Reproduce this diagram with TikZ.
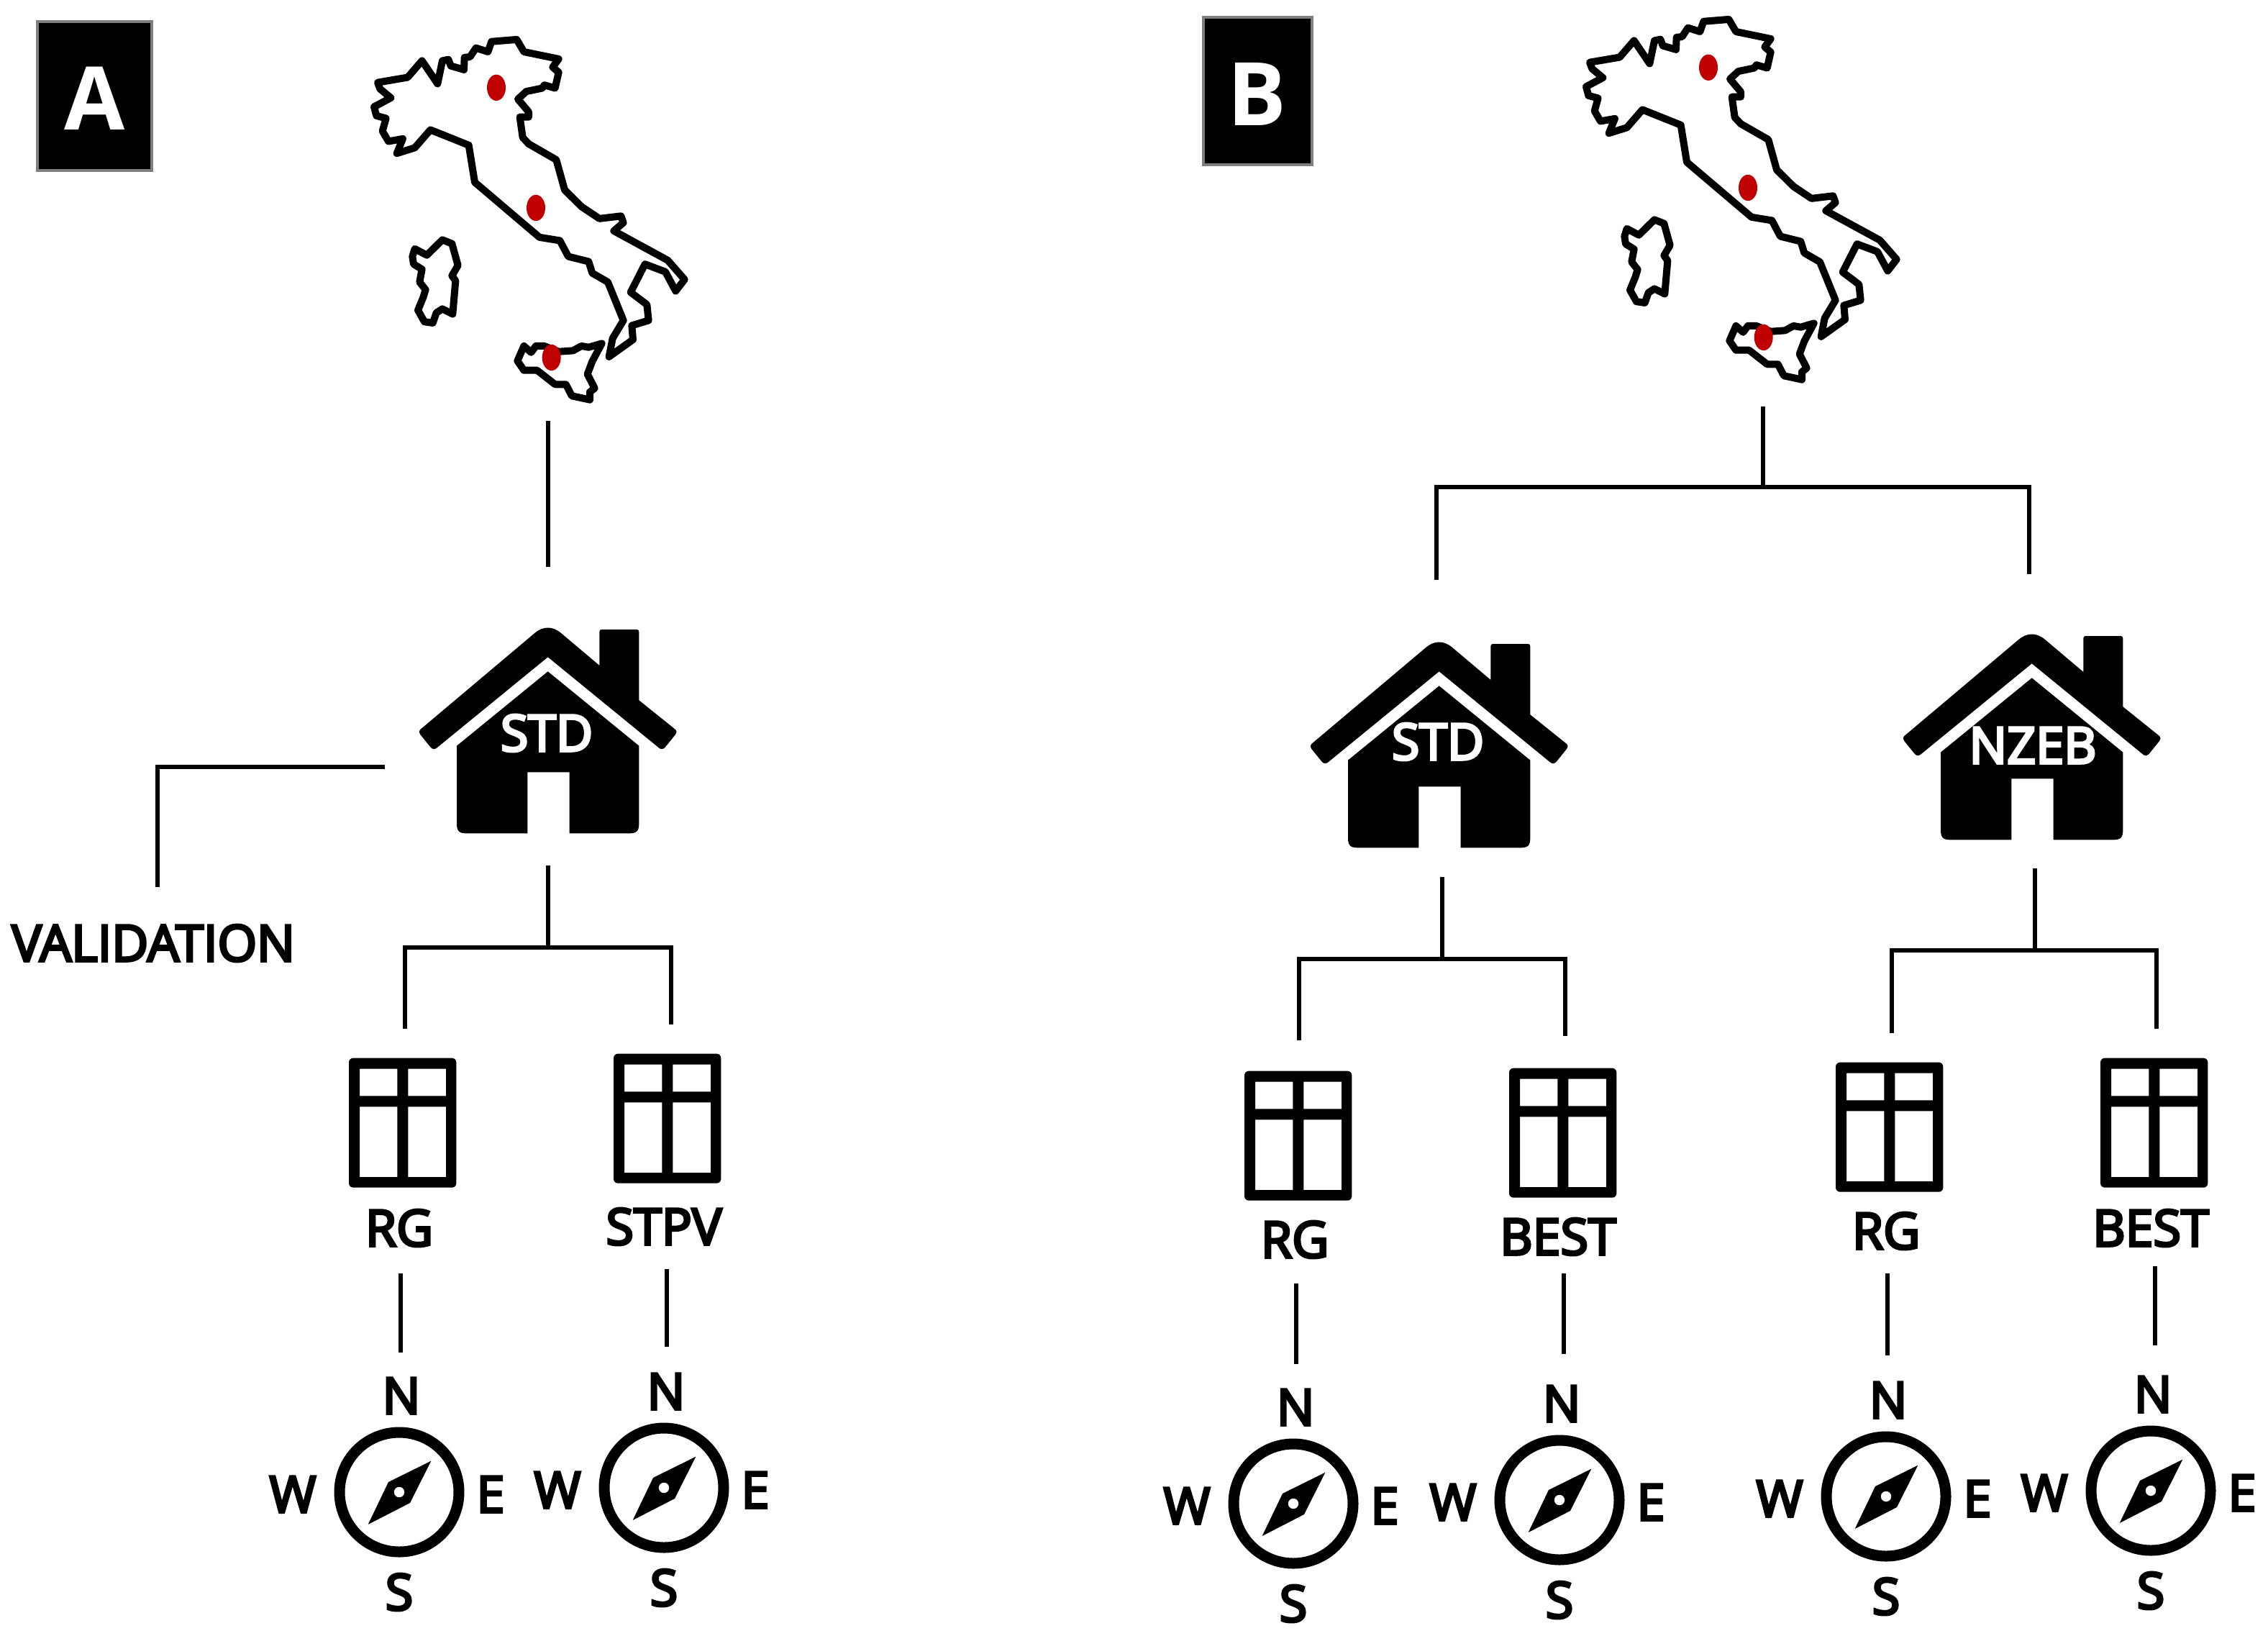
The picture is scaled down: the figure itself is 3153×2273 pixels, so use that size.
\documentclass[tikz,border=0pt]{standalone}
\usepackage{fontspec}
\setmainfont{Open Sans}
\newfontfamily\lblfont{Open Sans}[FakeBold=5]
\definecolor{dotred}{HTML}{C00000}
\definecolor{boxgray}{HTML}{7F7F7F}
\tikzset{
  x=1pt,y=-1pt,
  conn/.style={draw=black,line width=6.5pt},
  lbl/.style={inner sep=0pt,font=\fontsize{70}{82}\lblfont,text=black},
  hlbl/.style={inner sep=0pt,font=\fontsize{70}{82}\lblfont,text=white},
  tag/.style={inner sep=0pt,font=\fontsize{122}{140}\selectfont\bfseries,text=white},
  tagbox/.style={draw=boxgray,fill=black,line width=4pt},
  outline/.style={draw=black,line width=10pt,line join=round,fill=white},
  pics/italy/.style={code={
    \begin{scope}[xscale=1/3,yscale=0.3556]
    \path[outline] (135,210)--(260,190)--(320,125)--(385,215)--(405,125)--(430,120)--(440,145)--(495,160)--(497,112)--(520,110)--(545,75)--(595,90)--(610,50)--(715,42)--(745,90)--(890,118)--(865,150)--(890,170)--(875,232)--(830,220)--(822,232)--(755,245)--(720,275)--(765,325)--(765,345)--(728,345)--(740,425)--(765,450)--(880,512)--(915,630)--(985,695)--(1060,742)--(1150,732)--(1160,758)--(1120,790)--(1345,905)--(1415,980)--(1378,1025)--(1335,950)--(1250,920)--(1190,1030)--(1258,1078)--(1265,1140)--(1195,1160)--(1200,1215)--(1100,1282)--(1115,1210)--(1160,1140)--(1095,990)--(1030,955)--(1015,910)--(930,890)--(895,828)--(810,815)--(540,600)--(515,455)--(355,395)--(290,465)--(215,487)--(240,430)--(180,440)--(155,400)--(170,350)--(130,340)--(120,305)--(190,270)--(145,235)--cycle;
    \path[outline] (290,860)--(340,885)--(405,825)--(445,840)--(470,925)--(445,965)--(460,985)--(448,1115)--(405,1095)--(380,1110)--(365,1150)--(330,1145)--(303,1100)--(325,1050)--(335,1020)--(310,990)--(320,940)--(285,920)--(280,890)--cycle;
    \path[outline] (745,1240)--(775,1265)--(795,1240)--(830,1240)--(890,1262)--(950,1258)--(985,1240)--(1015,1245)--(1070,1230)--(1030,1300)--(1010,1350)--(1040,1405)--(1020,1420)--(1020,1450)--(945,1435)--(920,1390)--(875,1390)--(800,1335)--(745,1335)--(718,1298)--cycle;
    \fill[dotred] (630,230) ellipse[x radius=39,y radius=51];
    \fill[dotred] (795,700) ellipse[x radius=39,y radius=51];
    \fill[dotred] (860,1285) ellipse[x radius=39,y radius=51];
    \end{scope}
  }},
  pics/house/.style={code={
    \begin{scope}[scale=1/3]
    \fill[black] (133,582) .. controls (127,590) and (127,596) .. (133,603)--(175,655) .. controls (182,664) and (192,666) .. (200,660)--(665,280)--(1130,660) .. controls (1138,666) and (1148,664) .. (1155,655)--(1197,603) .. controls (1203,596) and (1203,590) .. (1197,582)--(1045,460)--(1045,175) .. controls (1045,168) and (1042,165) .. (1035,165)--(890,165) .. controls (883,165) and (880,168) .. (880,175)--(880,315)--(720,180) .. controls (685,150) and (645,150) .. (610,180)--cycle;
    \fill[black] (285,650)--(665,340)--(1045,650)--(1045,975) .. controls (1045,1005) and (1035,1015) .. (1005,1015)--(755,1015)--(755,760)--(580,760)--(580,1015)--(325,1015) .. controls (295,1015) and (285,1005) .. (285,975)--cycle;
    \end{scope}
  }},
  pics/pane/.style={code={
    \begin{scope}[scale=1/3]
    \fill[black,even odd rule] [rounded corners=6pt] (105,92) rectangle (553,632)
      [sharp corners] (150,137) rectangle (307,250) (352,137) rectangle (510,250)
      (150,295) rectangle (307,588) (352,295) rectangle (510,588);
    \end{scope}
  }},
  pics/compass/.style={code={
    \draw[black,line width=15pt] (0,0) circle[radius=83];
    \begin{scope}[scale=1/3]
    \fill[black,even odd rule] (133,-130)--(-45,-42)--(-130,135)--(45,45)--cycle (0,0) circle[radius=22];
    \end{scope}
    \node[lbl] at (3,-134) {N};
    \node[lbl] at (-148,3) {W};
    \node[lbl] at (127,3) {E};
    \node[lbl] at (0,139) {S};
  }}
}
\begin{document}
\begin{tikzpicture}
\useasboundingbox (0,0) rectangle (3153,2273);
% tags
\path[tagbox] (52,30) rectangle (211,237);
\node[tag] (tagA) at (132,137) {A};
\path[tagbox] (1673,24) rectangle (1824,229);
\node[tag] (tagB) at (1747,131) {B};
% maps
\pic (mapA) at (480,40) {italy};
\pic (mapB) at (2165,12) {italy};
% houses (zoom origin)
\pic (hA) at (540,820) {house};
\pic (hB) at (1779,840) {house};
\pic (hC) at (2603,829) {house};
\node[hlbl] (tA) at (760,1019) {STD};
\node[hlbl] (tB) at (1999,1031) {STD};
\node[hlbl] (tC) at (2826,1036) {NZEB};
% windows
\pic (wA1) at (450,1440) {pane};
\pic (wA2) at (818,1434) {pane};
\pic (wB1) at (1695,1458) {pane};
\pic (wB2) at (2063,1454) {pane};
\pic (wB3) at (2517,1446) {pane};
\pic (wB4) at (2885,1440) {pane};
% window labels
\node[lbl] (lA1) at (555,1707) {RG};
\node[lbl] (lA2) at (923,1705) {STPV};
\node[lbl] (lB1) at (1800,1723) {RG};
\node[lbl] (lB2) at (2166,1719) {BEST};
\node[lbl] (lB3) at (2622,1711) {RG};
\node[lbl] (lB4) at (2990,1707) {BEST};
\node[lbl] (val) at (213,1311) {VALIDATION};
% compasses
\pic (cA1) at (555,2074) {compass};
\pic (cA2) at (923,2068) {compass};
\pic (cB1) at (1798,2090) {compass};
\pic (cB2) at (2168,2085) {compass};
\pic (cB3) at (2622,2080) {compass};
\pic (cB4) at (2990,2072) {compass};
% connector coordinates: panel A
\coordinate (a1) at (762,585); \coordinate (a2) at (762,788);
\coordinate (v1) at (535,1066); \coordinate (v2) at (219,1233);
\coordinate (a3) at (762,1203); \coordinate (a4) at (762,1317);
\coordinate (a5) at (563,1430); \coordinate (a6) at (933,1424);
\coordinate (a7) at (557,1770); \coordinate (a8) at (557,1880);
\coordinate (a9) at (927,1764); \coordinate (a10) at (927,1872);
\draw[conn] (a1)--(a2);
\draw[conn] (v1)-|(v2);
\draw[conn] (a3)--(a4);
\draw[conn] (a5)|-(a4)-|(a6);
\draw[conn] (a7)--(a8);
\draw[conn] (a9)--(a10);
% panel B
\coordinate (b1) at (2451,565); \coordinate (b2) at (2451,677);
\coordinate (b3) at (1997,806); \coordinate (b4) at (2821,798);
\draw[conn] (b1)--(b2);
\draw[conn] (b3)|-(b2)-|(b4);
\coordinate (c1) at (2005,1219); \coordinate (c2) at (2005,1333);
\coordinate (c3) at (1806,1446); \coordinate (c4) at (2176,1440);
\draw[conn] (c1)--(c2);
\draw[conn] (c3)|-(c2)-|(c4);
\coordinate (d1) at (2829,1207); \coordinate (d2) at (2829,1321);
\coordinate (d3) at (2630,1436); \coordinate (d4) at (2998,1430);
\draw[conn] (d1)--(d2);
\draw[conn] (d3)|-(d2)-|(d4);
\coordinate (e1) at (1802,1784); \coordinate (e2) at (1802,1896);
\coordinate (e3) at (2174,1770); \coordinate (e4) at (2174,1882);
\coordinate (e5) at (2624,1770); \coordinate (e6) at (2624,1884);
\coordinate (e7) at (2996,1760); \coordinate (e8) at (2996,1870);
\draw[conn] (e1)--(e2);
\draw[conn] (e3)--(e4);
\draw[conn] (e5)--(e6);
\draw[conn] (e7)--(e8);
\end{tikzpicture}
\end{document}
